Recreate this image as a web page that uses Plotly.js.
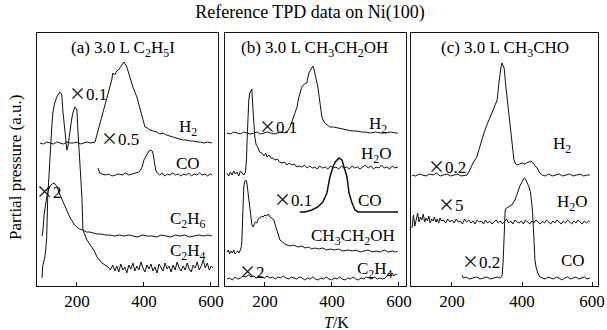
<!DOCTYPE html>
<html>
<head>
<meta charset="utf-8">
<script src="https://cdn.plot.ly/plotly-3.0.1.min.js"></script>
<style>
html,body{margin:0;padding:0;background:#fff;}
#chart{width:607px;height:330px;}
</style>
</head>
<body>
<div id="chart"></div>
<script>
// ---------- Panel (a) 3.0 L C2H5I ----------
const aH2_T = [90,100,110,120,130,140,150,160,170,180,190,200,210,220,230,240,254,262,269,275,282,290,297,304,307,313,319,324,328,334,340,344,349,358,367,379,387,394,403,410,418,428,439,448,457,467,477,487,497,507,516,528,538,548,558,568,578,590,603];
const aH2_V = [143,142,144,143,142,144,143,142,144,143,143,144,142,143,144,143,144,154,163,169,179,189,198,206,213,211,215,216,218,221,224,222,219,209,199,189,179,169,159,158,156,155,154,152,153,151,150,149,148,147,146,146,145,145,144,144,143,144,143];

const aCO_T = [263,268,275,285,295,305,315,325,335,345,355,365,375,385,390,395,400,405,410,415,421,425,428,431,435,440,447,455,462,470,478,486,494,502,510,518,526,534,542,550,558,566,574,582,590,598,603];
const aCO_V = [118,113,112,111,112,110,111,112,111,113,111,112,113,114,116,119,126,129,133,135,136,135,131,123,116,113,111,113,110,112,111,113,111,112,110,112,111,113,110,112,111,113,111,112,110,112,111];

const aC2H6_T = [96,99,102,106,110,115,120,126,132,137,141,146,151,156,162,168,174,180,186,193,200,208,218,228,238,248,260,272,285,298,312,326,340,354,368,382,396,410,424,438,452,466,480,494,508,522,536,550,564,578,592,603];
const aC2H6_V = [50,56,71,81,89,96,100,102,103,101,99,94,90,86,82,77,73,68,65,61,59,57,56,54,54,53,52,52,51,51,50,51,50,51,50,49,51,50,50,49,51,50,49,51,50,51,49,50,51,50,51,50];

const aC2H4_T = [96,98,101,104,107,110,113,117,122,125,128,134,140,145,149,152,155,158,161,164,167,170,173,176,179,184,188,191,194,197,200,203,206,209,212,215,218,224,230,238,245,252,260,268,275,284,293,300,307,313,319,325,331,337,343,349,355,361,367,373,379,385,391,397,403,409,415,421,427,433,439,445,451,457,463,469,475,481,487,493,499,505,511,517,523,529,535,541,547,553,559,565,571,577,583,589,595,601,607];
const aC2H4_V = [8,20,24,28,36,49,89,116,139,158,173,183,189,192,194,193,191,176,164,156,144,136,139,148,156,166,173,177,179,178,176,156,139,123,106,89,56,50,46,42,39,35,29,26,23,21,19,16,21,15,20,14,22,16,19,13,21,17,23,15,20,16,24,18,14,21,17,22,15,19,13,22,18,15,23,17,20,14,21,16,24,18,15,20,16,23,17,14,21,18,24,16,20,26,18,23,16,20,18];

// ---------- Panel (b) 3.0 L CH3CH2OH ----------
const bH2_T = [87,97,107,117,127,137,147,157,167,177,187,197,207,217,227,237,247,260,268,275,280,284,290,296,300,304,310,318,325,331,337,343,347,349,353,358,362,367,370,375,379,386,394,405,418,430,440,448,460,475,488,499,515,530,545,560,575,590,597];
const bH2_V = [153,152,154,153,152,154,153,152,153,154,152,153,154,153,152,153,154,153,155,159,164,169,175,179,187,193,199,202,203,213,217,220,216,213,206,199,189,179,169,165,163,161,159,159,158,157,156,156,155,155,154,154,153,154,153,153,154,153,153];

const bH2O_T = [87,92,97,102,107,112,117,122,127,132,137,142,145,147,149,152,155,158,161,164,167,170,174,179,184,191,197,203,206,212,218,224,230,237,244,251,258,265,272,281,288,295,302,310,318,326,334,342,349,356,364,372,380,388,396,404,412,420,428,436,444,452,460,468,476,484,492,500,508,516,524,532,540,548,556,564,572,580,588,597];
const bH2O_V = [113,110,114,111,115,112,114,110,115,113,111,114,126,146,173,186,193,196,197,179,161,149,141,139,134,133,130,133,129,131,128,128,126,127,124,123,124,121,123,121,122,119,120,119,121,118,120,118,119,117,120,118,119,117,120,118,119,117,120,118,119,117,120,118,119,117,119,121,118,120,117,119,118,121,118,119,117,120,118,119];

const bCO_T = [304,320,340,358,373,385,394,403,410,415,421,426,430,436,445,451,456,460,469,478,500,530,560,597];
const bCO_V = [74,74,76,79,84,93,109,119,124,126,128,127,126,119,109,93,87,83,76,74,74,74,74,74];

const bEtOH_T = [87,91,95,99,103,107,111,115,119,123,126,129,131,134,137,140,143,146,149,152,155,158,161,164,168,172,176,180,185,190,195,200,205,210,215,220,224,227,231,236,241,245,252,259,266,275,285,299,310,320,330,340,349,360,372,384,396,408,420,432,448,460,472,484,496,508,520,532,544,556,568,580,590,597];
const bEtOH_V = [34,36,32,35,33,36,32,34,35,33,35,38,43,69,99,105,106,104,96,89,78,69,62,59,61,64,63,67,68,70,69,71,70,72,69,68,67,66,61,56,50,46,44,42,41,40,41,39,40,38,39,37,38,37,38,36,37,36,37,35,36,35,36,34,35,36,34,35,34,36,34,35,34,35];

const bC2H4_T = [87,95,103,111,119,127,135,143,151,159,167,175,183,191,199,207,215,223,231,239,247,255,263,271,279,287,295,303,311,319,327,335,343,351,359,367,375,383,391,399,407,415,423,431,439,447,455,463,471,479,487,495,503,511,519,527,535,543,551,559,565,570,575,580,585,590,594];
const bC2H4_V = [7,8,6,9,7,8,10,9,11,9,10,8,10,9,8,10,8,9,7,9,8,10,8,7,9,8,7,9,8,6,8,7,9,7,6,8,7,9,7,6,8,7,9,7,6,8,7,9,7,6,8,7,9,8,7,9,7,8,7,8,10,13,11,13,10,12,11];

// ---------- Panel (c) 3.0 L CH3CHO ----------
const cH2_T = [86,96,106,116,126,136,146,156,166,176,186,196,206,216,226,236,243,251,260,271,280,287,294,301,309,317,323,329,334,337,340,343,346,349,354,360,365,369,374,377,382,386,393,400,407,414,420,426,431,437,443,451,458,466,476,486,496,506,516,526,536,546,556,566,576,586,594];
const cH2_V = [111,110,112,111,110,112,111,113,110,111,112,110,111,112,110,111,111,116,123,129,141,148,156,162,168,176,181,186,203,213,219,223,221,218,199,179,166,156,139,126,122,121,122,123,122,123,124,125,123,121,118,113,111,110,112,110,111,112,110,111,112,110,111,112,110,111,111];

const cH2O_T = [86,90,94,98,102,106,110,114,118,122,126,130,134,138,142,146,150,154,158,162,166,170,176,182,188,194,200,206,212,218,224,230,236,242,248,254,260,266,272,278,284,290,296,302,308,314,320,326,332,338,344,350,356,362,368,374,380,386,392,398,404,410,416,422,428,434,440,446,452,458,464,470,476,482,488,494,500,506,512,518,524,530,536,542,548,554,560,566,572,578,584,590,594];
const cH2O_V = [58,71,60,68,73,64,69,66,72,64,68,65,70,63,67,65,69,64,67,63,68,65,66,63,67,64,66,63,67,64,65,62,67,64,66,63,65,62,66,64,65,62,66,63,65,62,64,66,63,65,62,64,67,63,65,62,66,64,63,65,62,66,64,62,65,63,66,64,62,65,63,66,64,62,65,63,66,64,62,65,63,66,64,62,65,63,66,64,62,65,63,65,64];

const cCO_T = [229,232,240,250,260,270,280,290,300,310,320,330,338,343,346,348,350,352,356,360,366,371,376,380,385,389,395,400,404,406,410,414,418,420,424,426,429,431,433,434,437,440,445,451,458,466,474,482,490,498,506,514,522,530,538,546,554,562,570,578,586,594];
const cCO_V = [11,8,9,7,8,9,7,8,9,7,8,9,8,10,24,46,66,76,78,79,80,81,84,86,91,96,101,104,107,108,107,104,101,99,94,89,79,69,51,39,26,19,13,9,8,7,9,8,7,9,8,6,8,9,7,8,9,7,8,9,7,8];

// ---------- Text ----------
const X = "<span style=\"font-family:'Noto Sans CJK SC'\">×</span>";
const panelTitles = ["(a) 3.0 L C<sub>2</sub>H<sub>5</sub>I", "(b) 3.0 L CH<sub>3</sub>CH<sub>2</sub>OH", "(c) 3.0 L CH<sub>3</sub>CHO"];
const aLabels = [["H<sub>2</sub>",531,158],["CO",531,123],["C<sub>2</sub>H<sub>6</sub>",531,66],["C<sub>2</sub>H<sub>4</sub>",531,34],[X+"0.1",233,194],[X+"0.5",328,149],[X+"2",117,96]];
const bLabels = [["H<sub>2</sub>",537,161],["H<sub>2</sub>O",534,131],["CO",513,86],["CH<sub>3</sub>CH<sub>2</sub>OH",463,49],["C<sub>2</sub>H<sub>4</sub>",528,16],[X+"0.1",239,161],[X+"0.1",284,88],[X+"2",161,16]];
const cLabels = [["H<sub>2</sub>",514,141],["H<sub>2</sub>O",543,83],["CO",546,26],[X+"0.2",186,121],[X+"5",197,83],[X+"0.2",283,26]];
const tickVals = [200,400,600];
const tickText = ["200","400","600"];

const FONT = "Liberation Serif, Times New Roman, serif";

function tr(x, y, ax, w){
  return {x:x, y:y, type:"scatter", mode:"lines", xaxis:ax[0], yaxis:ax[1],
          line:{color:"#111", width:w||1}, hoverinfo:"skip", showlegend:false};
}
const A=["x","y"], B=["x2","y2"], C=["x3","y3"];
const data = [
  tr(aH2_T,aH2_V,A), tr(aCO_T,aCO_V,A), tr(aC2H6_T,aC2H6_V,A), tr(aC2H4_T,aC2H4_V,A),
  tr(bH2_T,bH2_V,B), tr(bH2O_T,bH2O_V,B), tr(bCO_T,bCO_V,B,1.5), tr(bEtOH_T,bEtOH_V,B), tr(bC2H4_T,bC2H4_V,B),
  tr(cH2_T,cH2_V,C), tr(cH2O_T,cH2O_V,C), tr(cCO_T,cCO_V,C)
];

function xax(dom, rng){
  return {domain:dom, range:rng, tickvals:tickVals, ticktext:tickText, ticks:"inside", ticklen:4,
          tickcolor:"#111", showline:true, mirror:true, linecolor:"#111", linewidth:1,
          showgrid:false, zeroline:false, fixedrange:true,
          tickfont:{family:FONT, size:17, color:"#000"}};
}
function yax(anchor){
  return {domain:[44/330, 297/330], range:[0,253], anchor:anchor, showticklabels:false, ticks:"",
          showline:true, mirror:true, linecolor:"#111", linewidth:1, showgrid:false, zeroline:false, fixedrange:true};
}
const W=607;
const layout = {
  width:607, height:330, margin:{l:0,r:0,t:0,b:0},
  paper_bgcolor:"#fff", plot_bgcolor:"#fff", showlegend:false,
  title:{text:"Reference TPD data on Ni(100)", font:{family:FONT,size:18,color:"#000"},
         x:310/607, xanchor:"center", y:1-12/330, yanchor:"middle"},
  xaxis: Object.assign(xax([37/W,218/W],[81,621]), {anchor:"y"}),
  yaxis: yax("x"),
  xaxis2: Object.assign(xax([225/W,406/W],[81,621]), {anchor:"y2"}),
  yaxis2: yax("x2"),
  xaxis3: Object.assign(xax([411/W,598/W],[83,617]), {anchor:"y3"}),
  yaxis3: yax("x3"),
  annotations:[]
};
const refs = [["x","y"],["x2","y2"],["x3","y3"]];
const titleX = [337,349,351];
panelTitles.forEach((t,i)=>{
  layout.annotations.push({text:t, x:titleX[i], y:237, xref:refs[i][0], yref:refs[i][1],
    showarrow:false, xanchor:"center", yanchor:"middle", font:{family:FONT,size:17,color:"#000"}});
});
[aLabels,bLabels,cLabels].forEach((labs,i)=>{
  labs.forEach(l=>{
    layout.annotations.push({text:l[0], x:l[1], y:l[2], xref:refs[i][0], yref:refs[i][1],
      showarrow:false, xanchor:"center", yanchor:"middle", font:{family:FONT,size:17,color:"#000"}});
  });
});
layout.annotations.push({text:"Partial pressure (a.u.)", x:16/607, y:1-168/330, xref:"paper", yref:"paper",
  textangle:-90, showarrow:false, xanchor:"center", yanchor:"middle", font:{family:FONT,size:17,color:"#000"}});
layout.annotations.push({text:"<i>T</i>/K", x:337/607, y:1-322/330, xref:"paper", yref:"paper",
  showarrow:false, xanchor:"center", yanchor:"middle", font:{family:FONT,size:16,color:"#000"}});

Plotly.newPlot("chart", data, layout, {displayModeBar:false});
</script>
</body>
</html>
